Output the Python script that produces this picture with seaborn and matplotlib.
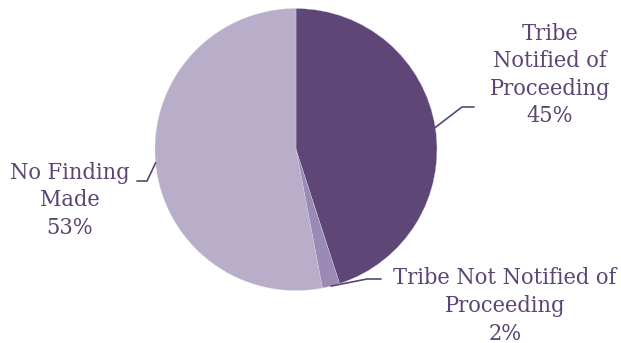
import numpy as np
import matplotlib
matplotlib.use("Agg")
import matplotlib.pyplot as plt
import seaborn as sns

# Outcome shares of the proceedings
categories = ["Tribe Notified of Proceeding", "Tribe Not Notified of Proceeding", "No Finding Made"]
shares = [45, 2, 53]
label_lines = [["Tribe", "Notified of", "Proceeding"],
               ["Tribe Not Notified of", "Proceeding"],
               ["No Finding", "Made"]]

colors = ["#5E4776", "#9C8AB6", "#B8AEC9"]
text_color = "#5B4573"

sns.set_theme(style="white")
plt.rcParams["font.family"] = ["DejaVu Serif"]

W, H = 621, 343
fig = plt.figure(figsize=(W / 100, H / 100), dpi=100)
ax = fig.add_axes([0, 0, 1, 1])

cx, cy, r = 296, H - 149.5, 141
wedges, _ = ax.pie(shares, colors=colors, startangle=90, counterclock=False,
                   center=(cx, cy), radius=r, frame=True,
                   wedgeprops=dict(linewidth=0.25, edgecolor="#d8d0e2"))
ax.set_xlim(0, W)
ax.set_ylim(0, H)
ax.set_aspect("equal")
ax.axis("off")

# leader elbow, leader end and text-block centre for each label
layout = [
    dict(elbow=(462, H - 107), end=(474, H - 107), text=(550, H - 75)),
    dict(elbow=(367, H - 279), end=(381, H - 279), text=(505, H - 306)),
    dict(elbow=(147, H - 181), end=(137, H - 181), text=(70, H - 200)),
]

line_gap = 27.5
for w, share, lines, lay in zip(wedges, shares, label_lines, layout):
    mid = np.deg2rad((w.theta1 + w.theta2) / 2)
    sx, sy = cx + r * np.cos(mid), cy + r * np.sin(mid)
    ex, ey = lay["elbow"]
    tx, ty = lay["end"]
    ax.plot([sx, ex, tx], [sy, ey, ty], color=text_color, lw=1.2,
            solid_joinstyle="miter")
    all_lines = lines + [f"{share}%"]
    n = len(all_lines)
    xc, yc = lay["text"]
    for i, s in enumerate(all_lines):
        yy = yc + (n - 1) / 2 * line_gap - i * line_gap
        ax.text(xc, yy, s, ha="center", va="center", fontsize=16.8,
                color=text_color, fontstretch="condensed")

fig.savefig("out.png", dpi=100)
